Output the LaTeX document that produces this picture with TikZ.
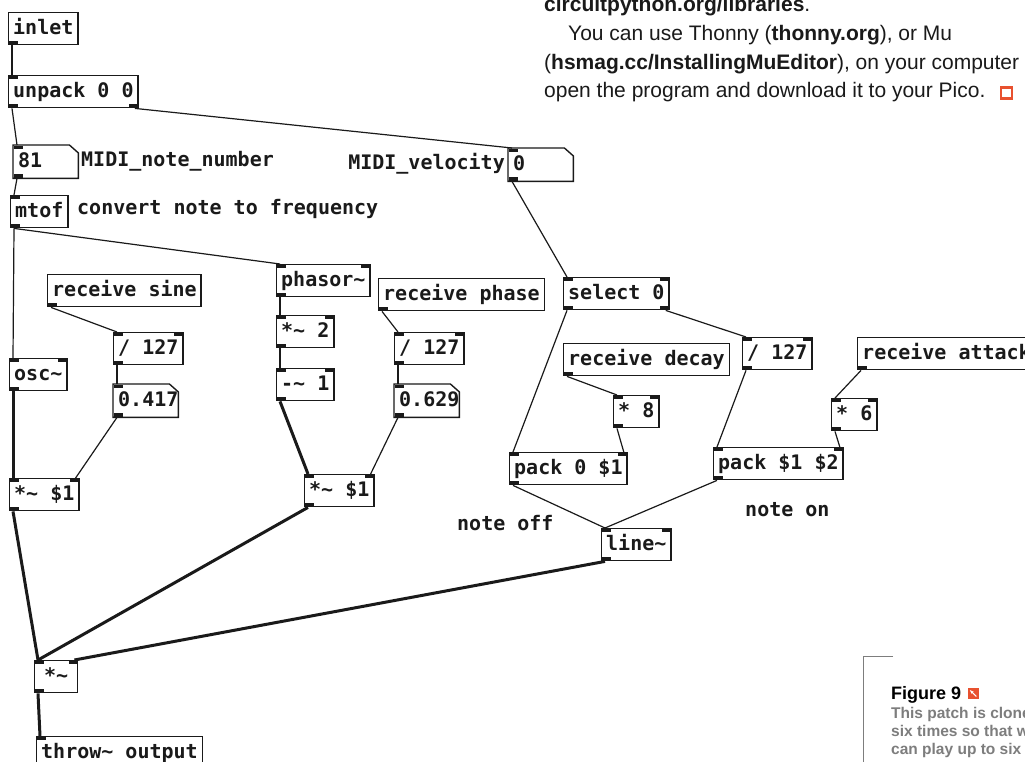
\documentclass[tikz,border=0pt]{standalone}
\usepackage{fontspec}
\setmonofont{DejaVu Sans Mono}
\newfontfamily\magfont{Liberation Sans}
\newfontfamily\capfont{Liberation Sans}
\usetikzlibrary{arrows.meta, positioning}
\definecolor{pdink}{HTML}{1A1A1A}
\definecolor{magred}{HTML}{E8512F}
\definecolor{capgrey}{HTML}{7D7D7D}
\newcommand{\pdports}[2]{%
  \ifnum#1>0 \fill[pdink] (path picture bounding box.north west) rectangle ++(9,3.5);\fi
  \ifnum#1>1 \fill[pdink] (path picture bounding box.north east) rectangle ++(-9,3.5);\fi
  \ifnum#2>0 \fill[pdink] (path picture bounding box.south west) rectangle ++(9,-3.5);\fi
  \ifnum#2>1 \fill[pdink] (path picture bounding box.south east) rectangle ++(-9,-3.5);\fi}

\begin{document}
\begin{tikzpicture}[x=1pt, y=-1pt,
  pdfont/.style={font=\ttfamily\bfseries\fontsize{20}{20}\selectfont, text=pdink},
  obj/.style 2 args={draw=pdink, line width=1.4pt, pdfont, anchor=north west,
    inner xsep=4.5pt, inner ysep=0pt, text height=15pt, text depth=4pt,
    minimum height=32pt, path picture={\pdports{#1}{#2}}},
  num/.style={obj={1}{1}, draw=none, text width=55pt, align=left},
  cmt/.style={pdfont, inner sep=0pt},
  ctl/.style={draw=pdink, line width=1.2pt},
  sig/.style={draw=pdink, line width=3pt},
  mag/.style={font=\magfont\fontsize{21}{21}\selectfont, text=pdink, inner sep=0pt, anchor=base west}
]
\useasboundingbox[fill=white] (0,0) rectangle (1025,762);

\node[obj={0}{1}] (inl) at (8,12) {inlet};
\node[obj={1}{2}] (unp) at (8,75) {unpack 0 0};
\node[num] (note) at (13,145) {81};
\node[cmt, anchor=west] (notelbl) at (81,161) {MIDI\_note\_number};
\node[num] (vel) at (508,148) {0};
\node[cmt, anchor=east] (vellbl) at (505,164) {MIDI\_velocity};
\node[obj={1}{1}] (mtof) at (10,195) {mtof};
\node[cmt, anchor=west] (mtoflbl) at (77,209) {convert note to frequency};

\node[obj={0}{1}] (rsin) at (47,274) {receive sine};
\node[obj={2}{1}] (dsin) at (113,332) {/ 127};
\node[num] (vsin) at (113,384) {0.417};
\node[obj={2}{1}] (osc) at (9,358) {osc\char`\~};
\node[obj={2}{1}] (msin) at (9,478) {*\char`\~{} \$1};

\node[obj={2}{1}] (phs) at (276,264) {phasor\char`\~};
\node[obj={2}{1}] (mtwo) at (276,315) {*\char`\~{} 2};
\node[obj={2}{1}] (sone) at (276,368) {-\char`\~{} 1};
\node[obj={0}{1}] (rph) at (378,278) {receive phase};
\node[obj={2}{1}] (dph) at (394,332) {/ 127};
\node[num] (vph) at (394,384) {0.629};
\node[obj={2}{1}] (mph) at (304,474) {*\char`\~{} \$1};

\node[obj={2}{2}] (sel) at (563,277) {select 0};
\node[obj={0}{1}] (rdec) at (563,343) {receive decay};
\node[obj={2}{1}, minimum width=43pt] (meight) at (613,395) {* 8};
\node[obj={2}{1}] (pkoff) at (509,452) {pack 0 \$1};
\node[obj={2}{1}] (dvel) at (742,337) {/ 127};
\node[obj={0}{1}] (ratt) at (857,337) {receive attack};
\node[obj={2}{1}, minimum width=43pt] (msix) at (831,398) {* 6};
\node[obj={2}{1}] (pkon) at (713,447) {pack \$1 \$2};
\node[cmt, anchor=west] (offlbl) at (457,523) {note off};
\node[cmt, anchor=west] (onlbl) at (745,510) {note on};
\node[obj={2}{1}] (line) at (601,528) {line\char`\~};

\node[obj={2}{1}, minimum width=43pt] (mout) at (34,660) {*\char`\~};
\node[obj={1}{0}] (thr) at (36,736) {throw\char`\~{} output};

\foreach \n in {note, vel, vsin, vph}
  \draw[pdink, line width=1.4pt] (\n.north west) -- ([xshift=-9pt]\n.north east)
    -- ([yshift=-8pt]\n.north east) -- (\n.south east) -- (\n.south west) -- cycle;

\draw[ctl] ([xshift=4]inl.south west) -- ([xshift=4]unp.north west);
\draw[ctl] ([xshift=4]unp.south west) -- ([xshift=4]note.north west);
\draw[ctl] ([xshift=-4]unp.south east) -- ([xshift=4]vel.north west);
\draw[ctl] ([xshift=4]note.south west) -- ([xshift=4]mtof.north west);
\draw[ctl] ([xshift=4]mtof.south west) -- ([xshift=4]osc.north west);
\draw[ctl] ([xshift=4]mtof.south west) -- ([xshift=4]phs.north west);
\draw[ctl] ([xshift=4]vel.south west) -- ([xshift=4]sel.north west);
\draw[ctl] ([xshift=4]rsin.south west) -- ([xshift=4]dsin.north west);
\draw[ctl] ([xshift=4]dsin.south west) -- ([xshift=4]vsin.north west);
\draw[ctl] ([xshift=4]vsin.south west) -- ([xshift=-4]msin.north east);
\draw[ctl] ([xshift=4]rph.south west) -- ([xshift=4]dph.north west);
\draw[ctl] ([xshift=4]dph.south west) -- ([xshift=4]vph.north west);
\draw[ctl] ([xshift=4]vph.south west) -- ([xshift=-4]mph.north east);
\draw[ctl] ([xshift=4]sel.south west) -- ([xshift=4]pkoff.north west);
\draw[ctl] ([xshift=-4]sel.south east) -- ([xshift=4]dvel.north west);
\draw[ctl] ([xshift=4]rdec.south west) -- ([xshift=4]meight.north west);
\draw[ctl] ([xshift=4]meight.south west) -- ([xshift=-4]pkoff.north east);
\draw[ctl] ([xshift=4]dvel.south west) -- ([xshift=4]pkon.north west);
\draw[ctl] ([xshift=4]ratt.south west) -- ([xshift=4]msix.north west);
\draw[ctl] ([xshift=4]msix.south west) -- ([xshift=-4]pkon.north east);
\draw[ctl] ([xshift=4]pkoff.south west) -- ([xshift=4]line.north west);
\draw[ctl] ([xshift=4]pkon.south west) -- ([xshift=4]line.north west);
\draw[sig] ([xshift=4]osc.south west) -- ([xshift=4]msin.north west);
\draw[sig, line width=2.2pt] ([xshift=4]phs.south west) -- ([xshift=4]mtwo.north west);
\draw[sig, line width=2.2pt] ([xshift=4]mtwo.south west) -- ([xshift=4]sone.north west);
\draw[sig] ([xshift=4]sone.south west) -- ([xshift=4]mph.north west);
\draw[sig] ([xshift=4]msin.south west) -- ([xshift=4]mout.north west);
\draw[sig] ([xshift=4]mph.south west) -- ([xshift=4]mout.north west);
\draw[sig] ([xshift=4]line.south west) -- ([xshift=-4]mout.north east);
\draw[sig] ([xshift=4]mout.south west) -- ([xshift=4]thr.north west);

\node[mag] (lib) at (544,12) {\textbf{circuitpython.org/libraries}.};
\node[mag] (thonny) at (568,41) {You can use Thonny (\textbf{thonny.org}), or Mu};
\node[mag] (hsmag) at (544,70) {(\textbf{hsmag.cc/InstallingMuEditor}), on your computer};
\node[mag] (pico) at (544,98) {open the program and download it to your Pico.};
\node[draw=magred, line width=2.6pt, minimum size=11pt, inner sep=0pt] (endsq) at (1006.5,93) {};

\draw[capgrey, line width=1pt] (893,656) -- (863,656) -- (863,762);
\node[anchor=base west, inner sep=0pt, font=\capfont\bfseries\fontsize{18}{18}\selectfont] (fig) at (891,699) {Figure 9};
\node[fill=magred, minimum size=11pt, inner sep=0pt, right=6pt of fig.base east, anchor=south west] (figicon) {};
\draw[white, line width=1pt, -{Stealth[length=4pt]}] ([shift={(-2.5,-2.5)}]figicon.south east) -- ([shift={(2.5,2.5)}]figicon.north west);
\node[anchor=north west, inner sep=0pt, align=left, text=capgrey,
  font=\capfont\bfseries\fontsize{15.5}{18.2}\selectfont] (figtxt) at (891,707)
  {This patch is cloned\\six times so that we\\can play up to six};
\end{tikzpicture}
\end{document}
